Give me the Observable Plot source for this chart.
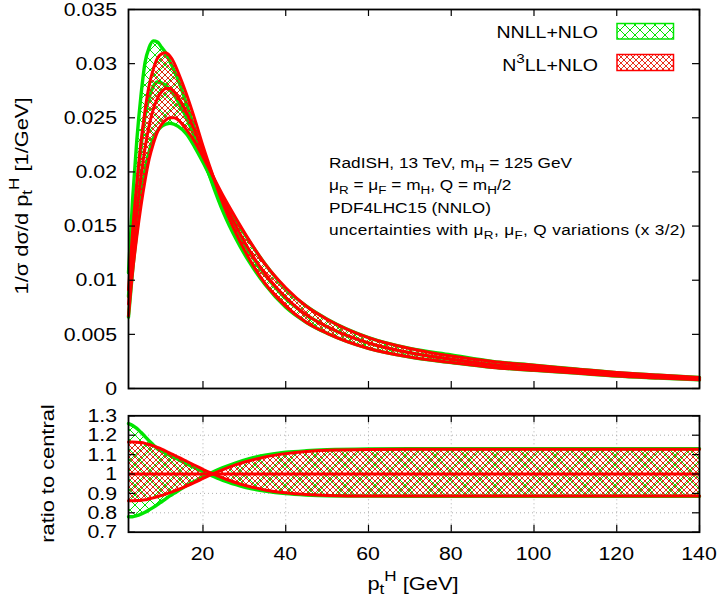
<!DOCTYPE html>
<html>
<head>
<meta charset="utf-8">
<script src="https://cdn.jsdelivr.net/npm/d3@7"></script>
<script src="https://cdn.jsdelivr.net/npm/@observablehq/plot@0.6"></script>
<style>
  body { margin: 0; background: #fff; }
  #chart { width: 719px; height: 598px; position: relative; background: #fff; }
  #chart svg { display: block; }
</style>
</head>
<body>
<div id="chart"></div>
<script>
// Higgs transverse-momentum spectrum, normalised (1/GeV)
const pt = [2,3,4,5,6,7,8,9,10,11,12,13,14,16,18,20,22,25,28,31,35,40,45,50,60,70,80,90,100,110,120,130,140];

// NNLL+NLO: central curve and the two edges of the scale-variation envelope
const nnllCentral = [0.0085,0.0140,0.0185,0.0222,0.0252,0.0269,0.0279,0.0283,0.0282,0.0280,0.0276,0.0271,0.0265,0.0250,0.0232,0.0212,0.0193,0.0168,0.0146,0.0127,0.0105,0.0083,0.0068,0.0057,0.0042,0.0033,0.0027,0.0022,0.0019,0.0016,0.0013,0.0011,0.0009];
const nnllEdgeA   = [0.0107,0.0175,0.0229,0.0270,0.0301,0.0315,0.0321,0.0320,0.0315,0.0310,0.0302,0.0294,0.0285,0.0263,0.0240,0.0215,0.0192,0.0162,0.0138,0.0118,0.0096,0.0075,0.0061,0.0051,0.0037,0.0029,0.0024,0.00195,0.00168,0.00142,0.00115,0.00097,0.0008];
const nnllEdgeB   = [0.0066,0.0109,0.0145,0.0176,0.0202,0.0219,0.0231,0.0238,0.0242,0.0244,0.0245,0.0244,0.0242,0.0235,0.0223,0.0209,0.0194,0.0174,0.0155,0.0137,0.0115,0.0092,0.0076,0.0064,0.0047,0.0037,0.0031,0.0025,0.00215,0.0018,0.00147,0.00124,0.00102];

// N3LL+NLO: central curve and envelope edges
const n3llCentral = [0.0078,0.0125,0.0162,0.0195,0.0222,0.0243,0.0258,0.0268,0.0274,0.0277,0.0277,0.0274,0.0269,0.0255,0.0238,0.0219,0.0200,0.0173,0.0150,0.0129,0.0106,0.0084,0.0068,0.0057,0.0042,0.0033,0.0027,0.0022,0.0019,0.0016,0.0013,0.0011,0.0009];
const n3llEdgeA   = [0.0091,0.0146,0.0189,0.0227,0.0257,0.0280,0.0295,0.0305,0.0309,0.0310,0.0307,0.0301,0.0292,0.0272,0.0249,0.0224,0.0201,0.0169,0.0143,0.0121,0.0097,0.0076,0.0061,0.0051,0.0037,0.0029,0.0024,0.00195,0.00168,0.00142,0.00115,0.00097,0.0008];
const n3llEdgeB   = [0.0067,0.0108,0.0140,0.0168,0.0192,0.0212,0.0226,0.0237,0.0244,0.0248,0.0250,0.0250,0.0248,0.0239,0.0228,0.0214,0.0199,0.0177,0.0157,0.0138,0.0115,0.0093,0.0076,0.0064,0.0047,0.0037,0.0030,0.0025,0.00214,0.0018,0.00147,0.00124,0.00101];

// Envelope edges divided by each prediction's own central curve
const nnllRatioA = [1.26,1.25,1.235,1.215,1.193,1.17,1.15,1.13,1.118,1.107,1.096,1.085,1.075,1.053,1.033,1.012,0.993,0.966,0.945,0.927,0.912,0.899,0.892,0.888,0.886,0.885,0.885,0.885,0.885,0.885,0.885,0.885,0.885];
const nnllRatioB = [0.78,0.78,0.785,0.793,0.803,0.815,0.828,0.842,0.857,0.872,0.887,0.90,0.913,0.94,0.963,0.986,1.006,1.034,1.058,1.078,1.097,1.112,1.12,1.125,1.129,1.13,1.13,1.13,1.13,1.13,1.13,1.13,1.13];
const n3llRatioA = [1.165,1.165,1.164,1.162,1.158,1.152,1.145,1.137,1.128,1.118,1.108,1.097,1.087,1.066,1.045,1.024,1.004,0.978,0.955,0.937,0.918,0.903,0.894,0.889,0.886,0.886,0.886,0.886,0.886,0.886,0.886,0.886,0.886];
const n3llRatioB = [0.862,0.862,0.863,0.864,0.867,0.872,0.877,0.883,0.889,0.896,0.904,0.912,0.920,0.938,0.957,0.977,0.997,1.024,1.048,1.067,1.088,1.105,1.116,1.122,1.126,1.127,1.127,1.127,1.127,1.127,1.127,1.127,1.127];

// Axis ticks
const xTicks = [20,40,60,80,100,120,140];
const yTicksTop = [0,0.005,0.01,0.015,0.02,0.025,0.03,0.035];
const yTicksRatio = [0.7,0.8,0.9,1,1.1,1.2,1.3];
const xGridRatio = [20,40,60,80,100,120];
const yGridRatio = [0.8,0.9,1,1.1,1.2];

const seriesNames = ["NNLL+NLO", "N3LL+NLO"];

const FONT = "'Liberation Sans', Arial, Helvetica, sans-serif";
const GREEN = "#00e600";
const RED = "#ff0000";
const SX = 1.15;         // horizontal glyph stretch of the text
const TICK = 7;          // inward tick length (px)
const W = 719, ML = 128, MR = 20;
const PW = W - ML - MR;

const rows = pt.map((p, i) => ({
  pt: p,
  gc: nnllCentral[i], gA: nnllEdgeA[i], gB: nnllEdgeB[i],
  rc: n3llCentral[i], rA: n3llEdgeA[i], rB: n3llEdgeB[i],
  grA: nnllRatioA[i], grB: nnllRatioB[i],
  rrA: n3llRatioA[i], rrB: n3llRatioB[i]
}));

const curve = "monotone-x";
const lineOpts = (y, stroke, w = 3) => Plot.line(rows, {x: "pt", y, stroke, strokeWidth: w, curve});

function ticksMarks(yTicks, plotHeight) {
  return [
    Plot.tickY(yTicks, {y: d => d, insetRight: PW - TICK, stroke: "#000", strokeWidth: 1.2}),
    Plot.tickY(yTicks, {y: d => d, insetLeft: PW - TICK, stroke: "#000", strokeWidth: 1.2}),
    Plot.tickX(xTicks, {x: d => d, insetTop: plotHeight - TICK, stroke: "#000", strokeWidth: 1.2}),
    Plot.tickX(xTicks, {x: d => d, insetBottom: plotHeight - TICK, stroke: "#000", strokeWidth: 1.2})
  ];
}

const style = {fontFamily: FONT, fontSize: "18.5px", color: "#000", background: "#fff", overflow: "visible"};

// ---------- main panel ----------
const topH = 400, topMT = 9, topMB = 12;
const topPlot = Plot.plot({
  width: W, height: topH,
  marginLeft: ML, marginRight: MR, marginTop: topMT, marginBottom: topMB,
  style,
  x: {domain: [2, 140], axis: null, label: null},
  y: {domain: [0, 0.035], axis: null, label: null},
  marks: [
    Plot.areaY(rows, {x: "pt", y1: "gB", y2: "gA", fill: "url(#hatch-g)", curve}),
    lineOpts("gA", GREEN, 3.4), lineOpts("gB", GREEN, 3.4), lineOpts("gc", GREEN, 3.4),
    Plot.areaY(rows, {x: "pt", y1: "rB", y2: "rA", fill: "url(#hatch-r)", curve}),
    lineOpts("rA", RED), lineOpts("rB", RED), lineOpts("rc", RED),
    ...ticksMarks(yTicksTop, topH - topMT - topMB),
    Plot.frame({stroke: "#000", strokeWidth: 1.8})
  ]
});

// ---------- ratio panel ----------
const ratH = 198, ratMT = 15.3, ratMB = 66.3;
const ratioPlot = Plot.plot({
  width: W, height: ratH,
  marginLeft: ML, marginRight: MR, marginTop: ratMT, marginBottom: ratMB,
  style,
  x: {domain: [2, 140], axis: null, label: null},
  y: {domain: [0.7, 1.3], axis: null, label: null},
  marks: [
    Plot.ruleX(xGridRatio, {x: d => d, stroke: "#9a9a9a", strokeWidth: 0.8, strokeDasharray: "1,3"}),
    Plot.ruleY(yGridRatio, {y: d => d, stroke: "#9a9a9a", strokeWidth: 0.8, strokeDasharray: "1,3"}),
    Plot.areaY(rows, {x: "pt", y1: "grB", y2: "grA", fill: "url(#hatch-g2)", curve}),
    lineOpts("grA", GREEN, 3.4), lineOpts("grB", GREEN, 3.4),
    Plot.areaY(rows, {x: "pt", y1: "rrB", y2: "rrA", fill: "url(#hatch-r2)", curve}),
    lineOpts("rrA", RED), lineOpts("rrB", RED),
    Plot.ruleY([1], {stroke: RED, strokeWidth: 3}),
    ...ticksMarks(yTicksRatio, ratH - ratMT - ratMB),
    Plot.frame({stroke: "#000", strokeWidth: 1.8})
  ]
});

// crosshatch fill patterns
function addPatterns(svg, suffix) {
  const defs = d3.select(svg).insert("defs", ":first-child");
  const g = defs.append("pattern").attr("id", "hatch-g" + suffix)
    .attr("patternUnits", "userSpaceOnUse").attr("width", 10).attr("height", 10);
  g.append("path").attr("d", "M0,0L10,10M10,0L0,10M-1,9L1,11M9,-1L11,1M-1,1L1,-1M9,11L11,9")
    .attr("stroke", GREEN).attr("stroke-width", 1).attr("fill", "none");
  const r = defs.append("pattern").attr("id", "hatch-r" + suffix)
    .attr("patternUnits", "userSpaceOnUse").attr("width", 6).attr("height", 6);
  r.append("path").attr("d", "M0,0L6,6M-1,5L1,7M5,-1L7,1")
    .attr("stroke", RED).attr("stroke-width", 0.9).attr("fill", "none");
  r.append("path").attr("d", "M6,0L0,6M-1,1L1,-1M5,7L7,5")
    .attr("stroke", "#c8300a").attr("stroke-width", 0.9).attr("fill", "none");
}
addPatterns(topPlot, "");
addPatterns(ratioPlot, "2");

// rich text with sub/superscripts: parts = [[text, "sub"|"sup"|null], ...]
function richText(svg, {x, y, parts, size, anchor = "start", rotate = 0, dy = 0, spacing = 0}) {
  const g = d3.select(svg).append("g")
    .attr("transform", `translate(${x},${y}) rotate(${rotate}) scale(${SX},1)`);
  const t = g.append("text").attr("font-family", FONT).attr("font-size", size)
    .attr("text-anchor", anchor).attr("fill", "#000").attr("y", dy);
  if (spacing) t.attr("letter-spacing", spacing);
  let shift = 0;
  for (const [s, kind] of parts) {
    const target = kind === "sub" ? 0.26 * size : kind === "sup" ? -0.45 * size : 0;
    const span = t.append("tspan").text(s).attr("dy", target - shift);
    if (kind) span.attr("font-size", 0.78 * size);
    shift = target;
  }
  return g;
}

// tick labels, placed through each panel's own scales
const LABEL = 18.5;
const topY = topPlot.scale("y");
yTicksTop.forEach(v => richText(topPlot, {x: ML - 11, y: topY.apply(v), dy: 0.36 * LABEL,
  parts: [[String(v)]], size: LABEL, anchor: "end"}));
const ratY = ratioPlot.scale("y");
const ratX = ratioPlot.scale("x");
yTicksRatio.forEach(v => richText(ratioPlot, {x: ML - 11, y: ratY.apply(v), dy: 0.36 * LABEL,
  parts: [[String(v)]], size: LABEL, anchor: "end"}));
const ratBottom = ratH - ratMB;
xTicks.forEach(v => richText(ratioPlot, {x: ratX.apply(v), y: ratBottom + 15, dy: 0.72 * LABEL,
  parts: [[String(v)]], size: LABEL, anchor: "middle"}));

// annotation
const notes = [
  [["RadISH, 13 TeV, m"], ["H", "sub"], [" = 125 GeV"]],
  [["\u03bc"], ["R", "sub"], [" = \u03bc"], ["F", "sub"], [" = m"], ["H", "sub"], [", Q = m"], ["H", "sub"], ["/2"]],
  [["PDF4LHC15 (NNLO)"]],
  [["uncertainties with \u03bc"], ["R", "sub"], [", \u03bc"], ["F", "sub"], [", Q variations (x 3/2)"]]
];
notes.forEach((parts, i) => richText(topPlot, {x: 329, y: 168 + i * 22.4, parts, size: 15,
  spacing: i === 3 ? 0.3 : 0}));

// legend
richText(topPlot, {x: 598, y: 37.5, parts: [[seriesNames[0]]], size: 17, anchor: "end"});
richText(topPlot, {x: 598, y: 70.5, parts: [["N"], ["3", "sup"], ["LL+NLO"]], size: 17, anchor: "end"});
d3.select(topPlot).append("rect").attr("x", 617).attr("y", 23.5).attr("width", 56.5).attr("height", 15.5)
  .attr("fill", "url(#hatch-g)").attr("stroke", GREEN).attr("stroke-width", 1.5);
d3.select(topPlot).append("rect").attr("x", 617).attr("y", 54.5).attr("width", 56.5).attr("height", 16)
  .attr("fill", "url(#hatch-r)").attr("stroke", RED).attr("stroke-width", 1.5);

// axis titles
richText(topPlot, {x: 27.5, y: 196, rotate: -90, anchor: "middle", size: 19,
  parts: [["1/\u03c3 d\u03c3/d p"], ["t", "sub"], ["H", "sup"], [" [1/GeV]"]]});
richText(ratioPlot, {x: 53.5, y: 73.5, rotate: -90, anchor: "middle", size: 19,
  parts: [["ratio to central"]]});
richText(ratioPlot, {x: 413, y: 189.5, anchor: "middle", size: 19,
  parts: [["p"], ["t", "sub"], ["H", "sup"], [" [GeV]"]]});

const chart = document.getElementById("chart");
chart.appendChild(topPlot);
chart.appendChild(ratioPlot);
</script>
</body>
</html>
